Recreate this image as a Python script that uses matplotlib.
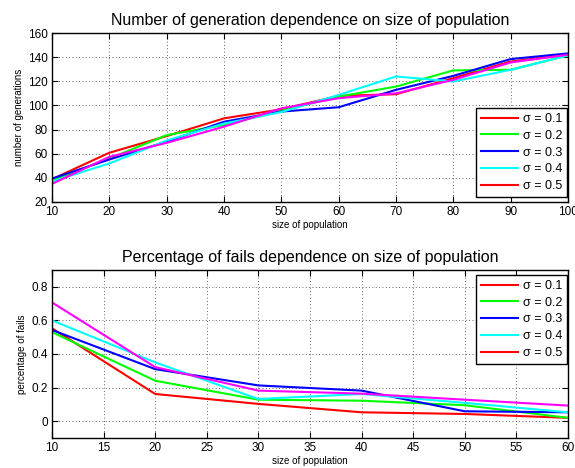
import matplotlib
matplotlib.use("Agg")
import matplotlib.pyplot as plt
from matplotlib.lines import Line2D

plt.rcParams['font.family'] = ['Liberation Sans', 'DejaVu Sans']

sigmas = ["σ = 0.1", "σ = 0.2", "σ = 0.3", "σ = 0.4", "σ = 0.5"]
line_colors = ["#ff0000", "#00ff00", "#0000ff", "#00ffff", "#ff00ff"]
legend_colors = ["#ff0000", "#00ff00", "#0000ff", "#00ffff", "#ff0000"]

pop_top = [10, 20, 30, 40, 50, 60, 70, 80, 90, 100]
gens = [
    [38.9, 60.8, 74.6, 89.3, 96.8, 107.9, 109.3, 122.6, 136.4, 142.0],
    [38.0, 56.0, 75.4, 83.8, 95.5, 107.3, 115.6, 129.0, 129.5, 141.5],
    [39.4, 55.2, 70.0, 86.5, 94.9, 98.5, 112.9, 124.5, 138.4, 143.1],
    [37.0, 51.9, 71.0, 85.0, 94.5, 108.7, 124.0, 119.8, 129.5, 141.4],
    [35.0, 57.4, 69.0, 82.4, 97.6, 106.0, 110.0, 121.2, 135.6, 142.0],
]

pop_bot = [10, 20, 30, 40, 50, 60]
fails = [
    [0.553, 0.162, 0.103, 0.053, 0.043, 0.020],
    [0.530, 0.241, 0.128, 0.122, 0.095, 0.020],
    [0.543, 0.310, 0.213, 0.182, 0.059, 0.053],
    [0.600, 0.350, 0.132, 0.162, 0.109, 0.053],
    [0.707, 0.322, 0.182, 0.164, 0.128, 0.093],
]

fig = plt.figure(figsize=(5.75, 4.68), dpi=100)
W, H = 575, 468
ax1 = fig.add_axes([52 / W, 1 - 202 / H, (568 - 52) / W, (202 - 33) / H])
ax2 = fig.add_axes([52 / W, 1 - 438 / H, (568 - 52) / W, (438 - 270) / H])


def style(ax):
    ax.grid(True, linestyle=(0, (1, 3)), color='#333333', linewidth=0.6)
    ax.tick_params(direction='in', top=True, right=True, labelsize=8.5, length=4, width=0.8, pad=3)
    for s in ax.spines.values():
        s.set_linewidth(1.0)


for vals, c in zip(gens, line_colors):
    ax1.plot(pop_top, vals, color=c, linewidth=1.5)
ax1.set_xlim(10, 100)
ax1.set_ylim(20, 160)
ax1.set_xticks(range(10, 101, 10))
ax1.set_yticks(range(20, 161, 20))
style(ax1)
ax1.set_title("Number of generation dependence on size of population", fontsize=11.5, pad=6)
ax1.set_xlabel("size of population", fontsize=7, labelpad=1)
ax1.set_ylabel("number of generations", fontsize=7, labelpad=3)

for vals, c in zip(fails, line_colors):
    ax2.plot(pop_bot, vals, color=c, linewidth=1.5)
ax2.set_xlim(10, 60)
ax2.set_ylim(-0.1, 0.9)
ax2.set_xticks(range(10, 61, 5))
ax2.set_yticks([0, 0.2, 0.4, 0.6, 0.8])
ax2.set_yticklabels(["0", "0.2", "0.4", "0.6", "0.8"])
style(ax2)
ax2.set_title("Percentage of fails dependence on size of population", fontsize=11.5, pad=6)
ax2.set_xlabel("size of population", fontsize=7, labelpad=1)
ax2.set_ylabel("percentage of fails", fontsize=7, labelpad=3)

handles = [Line2D([], [], color=c, linewidth=1.5) for c in legend_colors]
for ax, loc, anchor in ((ax1, 'lower right', (1 - 1 / 516, 5 / 169)),
                        (ax2, 'upper right', (1 - 1 / 516, 1 - 5 / 168))):
    leg = ax.legend(handles, sigmas, loc=loc, bbox_to_anchor=anchor, fontsize=9,
                    fancybox=False, edgecolor='black', framealpha=1, borderaxespad=0,
                    handlelength=2.9, handletextpad=0.4, labelspacing=0.38, borderpad=0.4)
    leg.get_frame().set_linewidth(1.0)

fig.savefig("out.png", dpi=100)
